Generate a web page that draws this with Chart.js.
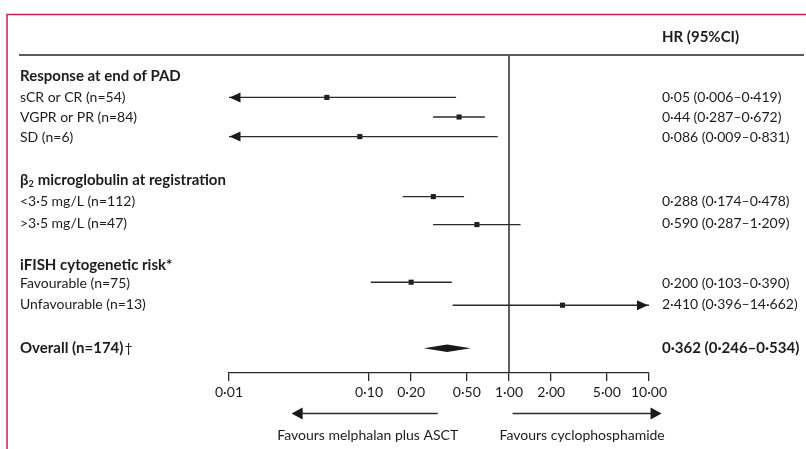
<!DOCTYPE html>
<html>
<head>
<meta charset="utf-8">
<script src="https://cdn.jsdelivr.net/npm/chart.js@4.4.1/dist/chart.umd.min.js"></script>
<style>
html,body{margin:0;padding:0;background:#fff;}
canvas{display:block;}
</style>
</head>
<body>
<canvas id="c" width="806" height="449" style="width:806px;height:449px"></canvas>
<script>
// ---- data ----
const groupHeaders = ['Response at end of PAD', 'microglobulin at registration', 'iFISH cytogenetic risk*'];
const groupHeaderRows = [1.05, 6.25, 10.5];
const rowLabels = ['sCR or CR (n=54)', 'VGPR or PR (n=84)', 'SD (n=6)', '<3·5 mg/L (n=112)', '>3·5 mg/L (n=47)', 'Favourable (n=75)', 'Unfavourable (n=13)'];
const hrValues = [0.05, 0.44, 0.086, 0.288, 0.590, 0.200, 2.410];
const ciLower = [0.006, 0.287, 0.009, 0.174, 0.287, 0.103, 0.396];
const ciUpper = [0.419, 0.672, 0.831, 0.478, 1.209, 0.390, 14.662];
const hrTexts = ['0·05 (0·006–0·419)', '0·44 (0·287–0·672)', '0·086 (0·009–0·831)', '0·288 (0·174–0·478)', '0·590 (0·287–1·209)', '0·200 (0·103–0·390)', '2·410 (0·396–14·662)'];
const markerRows = [2.12, 3.1, 4.08, 7.08, 8.48, 11.36, 12.51];
const textRows = [2.1, 3.1, 4.1, 7.3, 8.4, 11.4, 12.45];
const overallLabel = 'Overall (n=174)';
const overallMark = '†';
const overallHR = 0.362, overallLower = 0.246, overallUpper = 0.534;
const overallText = '0·362 (0·246–0·534)';
const overallRow = 14.66;
const tickValues = [0.01, 0.1, 0.2, 0.5, 1, 2, 5, 10];
const tickLabels = ['0·01', '0·10', '0·20', '0·50', '1·00', '2·00', '5·00', '10·00'];
const leftNote = 'Favours melphalan plus ASCT';
const rightNote = 'Favours cyclophosphamide';
const leftArrowRange = [0.31, 0.028];
const rightArrowRange = [1.06, 12.3];

const X_MIN = 0.01, X_MAX = 10;
const TXT = '#1e1b1c';
const LINE = '#2a2a2a';
const FONT = 'Lato, "Open Sans", sans-serif';
const BOLD = 'bold 15px ' + FONT;
const REG = '14px ' + FONT;

const clamp = v => Math.min(X_MAX, Math.max(X_MIN, v));

const ciDatasets = hrValues.map((h, i) => ({
  type: 'line',
  data: [{x: clamp(ciLower[i]), y: markerRows[i]}, {x: clamp(ciUpper[i]), y: markerRows[i]}],
  borderColor: LINE, borderWidth: 1.4, pointRadius: 0, showLine: true
}));
const markerDataset = {
  type: 'scatter',
  data: hrValues.map((h, i) => ({x: h, y: markerRows[i]})),
  pointStyle: 'rect', pointRadius: 3.6, backgroundColor: '#1a1a1a', borderColor: '#1a1a1a', borderWidth: 0
};

function tri(ctx, tipX, y, dir, len, half) {
  ctx.beginPath();
  ctx.moveTo(tipX, y);
  ctx.lineTo(tipX - dir * len, y - half);
  ctx.lineTo(tipX - dir * len, y + half);
  ctx.closePath();
  ctx.fill();
}

const forestPlugin = {
  id: 'forest',
  beforeDatasetsDraw(chart) {
    const {ctx, chartArea, scales: {x}} = chart;
    ctx.save();
    ctx.strokeStyle = LINE; ctx.lineWidth = 1.5;
    const x1 = x.getPixelForValue(1);
    ctx.beginPath(); ctx.moveTo(x1, chartArea.top); ctx.lineTo(x1, chartArea.bottom); ctx.stroke();
    ctx.restore();
  },
  afterDatasetsDraw(chart) {
    const {ctx, chartArea, scales: {x, y}} = chart;
    const W = chart.width, H = chart.height;
    ctx.save();
    // frame
    ctx.strokeStyle = '#cc1f4f'; ctx.lineWidth = 1.5;
    ctx.beginPath(); ctx.moveTo(7, H); ctx.lineTo(7, 14.5); ctx.lineTo(W, 14.5); ctx.stroke();
    // header rule
    ctx.strokeStyle = '#5b5b5b'; ctx.lineWidth = 2;
    ctx.beginPath(); ctx.moveTo(19, chartArea.top); ctx.lineTo(W - 2, chartArea.top); ctx.stroke();

    // arrows for clipped CIs
    ctx.fillStyle = '#1a1a1a';
    hrValues.forEach((h, i) => {
      const py = y.getPixelForValue(markerRows[i]);
      if (ciLower[i] < X_MIN) tri(ctx, x.getPixelForValue(X_MIN) + 0.5, py, -1, 11, 5);
      if (ciUpper[i] > X_MAX) tri(ctx, x.getPixelForValue(X_MAX) - 1, py, 1, 11, 5);
    });
    // overall diamond
    const dy = y.getPixelForValue(overallRow);
    const dl = x.getPixelForValue(overallLower), dc = x.getPixelForValue(overallHR), dr = x.getPixelForValue(overallUpper);
    ctx.beginPath();
    ctx.moveTo(dl, dy); ctx.lineTo(dc, dy - 3.8); ctx.lineTo(dr, dy); ctx.lineTo(dc, dy + 3.8); ctx.closePath();
    ctx.fill();

    // texts
    const textX = 20;
    const valX = chartArea.right + 13;
    ctx.fillStyle = TXT;
    ctx.textBaseline = 'middle';
    ctx.textAlign = 'left';
    ctx.font = BOLD;
    ctx.fillText('HR (95%CI)', valX, 37);
    groupHeaders.forEach((g, i) => {
      const py = y.getPixelForValue(groupHeaderRows[i]);
      ctx.font = BOLD;
      if (i === 1) {
        ctx.fillText('β', textX, py);
        const bw = ctx.measureText('β').width;
        ctx.font = 'bold 9px ' + FONT;
        ctx.fillText('2', textX + bw, py + 4);
        const sw = ctx.measureText('2').width;
        ctx.font = BOLD;
        ctx.fillText(g, textX + bw + sw + 4, py);
      } else {
        ctx.fillText(g, textX, py);
      }
    });
    ctx.font = REG;
    rowLabels.forEach((l, i) => {
      const py = y.getPixelForValue(textRows[i]);
      ctx.fillText(l, textX, py);
      ctx.fillText(hrTexts[i], valX, py);
    });
    const oy = y.getPixelForValue(overallRow);
    ctx.font = BOLD;
    ctx.fillText(overallLabel, textX, oy);
    const ow = ctx.measureText(overallLabel).width;
    ctx.fillText(overallText, valX, oy);
    ctx.font = REG;
    ctx.fillText(overallMark, textX + ow + 1, oy);

    // bottom direction arrows
    const ay = chartArea.bottom + 40.5;
    ctx.strokeStyle = LINE; ctx.lineWidth = 1.4; ctx.fillStyle = '#1a1a1a';
    const l0 = x.getPixelForValue(leftArrowRange[0]), l1 = x.getPixelForValue(leftArrowRange[1]);
    ctx.beginPath(); ctx.moveTo(l0, ay); ctx.lineTo(l1 + 8, ay); ctx.stroke();
    tri(ctx, l1, ay, -1, 11, 6);
    const r0 = x.getPixelForValue(rightArrowRange[0]), r1 = x.getPixelForValue(rightArrowRange[1]);
    ctx.beginPath(); ctx.moveTo(r0, ay); ctx.lineTo(r1 - 8, ay); ctx.stroke();
    tri(ctx, r1, ay, 1, 11, 6);
    ctx.font = REG;
    ctx.fillStyle = TXT;
    ctx.textAlign = 'center';
    ctx.fillText(leftNote, (l0 + l1) / 2 + 3, chartArea.bottom + 62);
    ctx.textAlign = 'left';
    ctx.fillText(rightNote, r0 - 13, chartArea.bottom + 62);
    ctx.restore();
  }
};

new Chart(document.getElementById('c'), {
  type: 'scatter',
  data: { datasets: [...ciDatasets, markerDataset] },
  options: {
    responsive: false,
    animation: false,
    events: [],
    layout: { padding: { left: 229, right: 157, top: 55, bottom: 0 } },
    plugins: { legend: { display: false }, tooltip: { enabled: false } },
    scales: {
      x: {
        type: 'logarithmic', min: X_MIN, max: X_MAX, position: 'bottom',
        afterBuildTicks: s => { s.ticks = tickValues.map(v => ({ value: v })); },
        afterFit: s => { s.height = 76; },
        ticks: {
          autoSkip: false, maxRotation: 0, minRotation: 0, padding: 3,
          color: TXT, font: { family: FONT, size: 14 },
          callback: (v, i) => tickLabels[i]
        },
        grid: { display: true, drawOnChartArea: false, drawTicks: true, tickLength: 8, color: LINE, lineWidth: 1.3 },
        border: { display: true, color: LINE, width: 1.3 }
      },
      y: { type: 'linear', min: 0, max: 15.9, reverse: true, display: false }
    }
  },
  plugins: [forestPlugin]
});
</script>
</body>
</html>
